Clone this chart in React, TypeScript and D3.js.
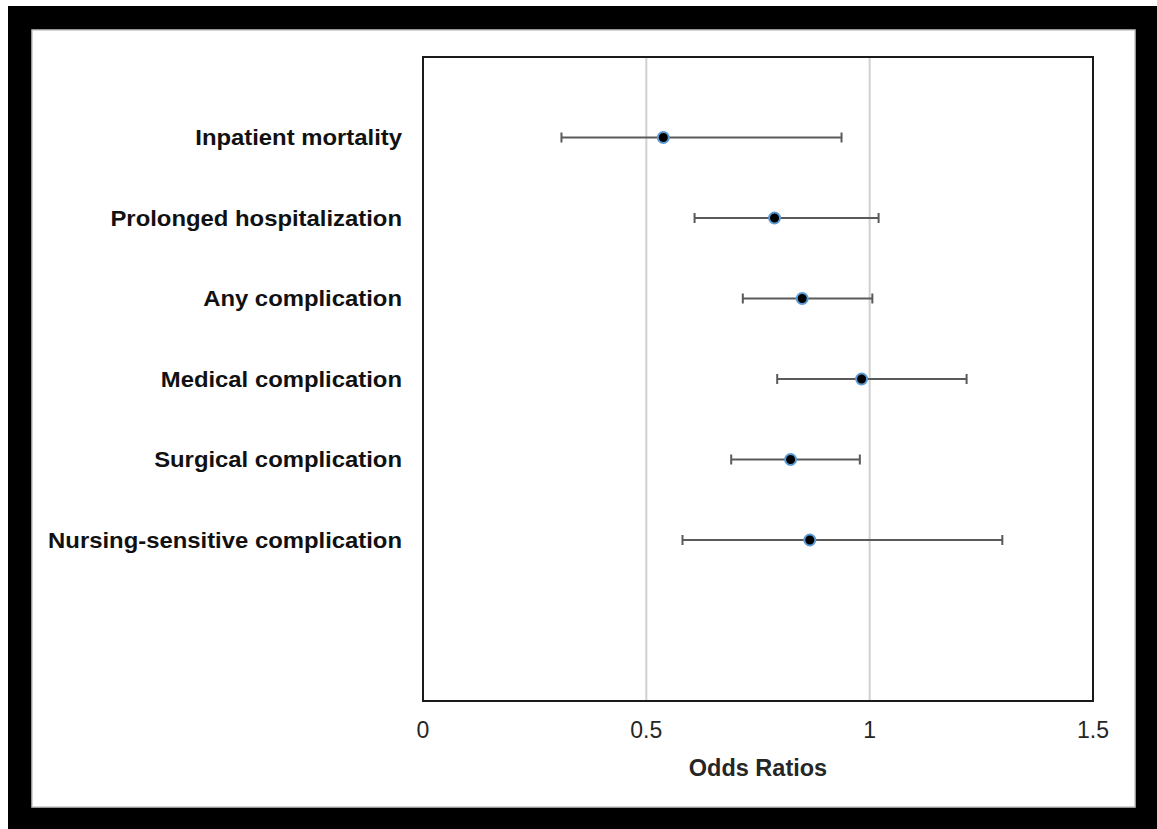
import React from "react";
import * as d3 from "d3";

const categories = [
  "Inpatient mortality",
  "Prolonged hospitalization",
  "Any complication",
  "Medical complication",
  "Surgical complication",
  "Nursing-sensitive complication",
];
const oddsRatios = [0.538, 0.787, 0.849, 0.982, 0.823, 0.866];
const lowerCI = [0.31, 0.608, 0.716, 0.793, 0.69, 0.581];
const upperCI = [0.937, 1.02, 1.006, 1.217, 0.978, 1.297];
const xTicks = [0, 0.5, 1, 1.5];
const gridValues = [0.5, 1];
const xTitle = "Odds Ratios";

export default function App() {
  const W = 1157, H = 829;
  const plot = { left: 423, right: 1093, top: 57, bottom: 701 };
  const x = d3.scaleLinear().domain([0, 1.5]).range([plot.left, plot.right]);
  const y = d3.scaleLinear().domain([8, 0]).range([plot.top, plot.bottom]);
  const yPos = (i: number) => y(7 - i);
  const font = "'Liberation Sans', Arial, sans-serif";
  const sx = 1.085;
  return (
    <svg width={W} height={H} style={{ position: "absolute", left: 0, top: 0 }}>
      <rect x={0} y={0} width={W} height={H} fill="#fff" />
      <rect x={8} y={6} width={W - 8} height={H - 6} fill="#000" />
      <rect x={32} y={30} width={1103} height={777} fill="#fff" stroke="#c8c8c8" strokeWidth={1.5} />
      {gridValues.map((g) => (
        <line key={g} x1={x(g)} x2={x(g)} y1={plot.top} y2={plot.bottom} stroke="#d0d0d0" strokeWidth={2} />
      ))}
      <rect
        x={plot.left}
        y={plot.top}
        width={plot.right - plot.left}
        height={plot.bottom - plot.top}
        fill="none"
        stroke="#1a1a1a"
        strokeWidth={2}
      />
      {categories.map((c, i) => {
        const cy = yPos(i);
        return (
          <g key={c}>
            <line x1={x(lowerCI[i])} x2={x(upperCI[i])} y1={cy} y2={cy} stroke="#5a5a5a" strokeWidth={2} />
            <line x1={x(lowerCI[i])} x2={x(lowerCI[i])} y1={cy - 5} y2={cy + 5} stroke="#5a5a5a" strokeWidth={2} />
            <line x1={x(upperCI[i])} x2={x(upperCI[i])} y1={cy - 5} y2={cy + 5} stroke="#5a5a5a" strokeWidth={2} />
            <circle cx={x(oddsRatios[i])} cy={cy} r={5.5} fill="#000" stroke="#5b9bd5" strokeWidth={2} />
            <g transform={`translate(402,${cy}) scale(${sx},1)`}>
              <text
                x={0}
                y={0}
                dy="0.35em"
                textAnchor="end"
                fontFamily={font}
                fontWeight="bold"
                fontSize={22}
                fill="#111"
              >
                {c}
              </text>
            </g>
          </g>
        );
      })}
      {xTicks.map((t) => (
        <text
          key={t}
          x={x(t)}
          y={738}
          textAnchor="middle"
          fontFamily={font}
          fontSize={23}
          fill="#262626"
        >
          {String(t)}
        </text>
      ))}
      <text
        x={(plot.left + plot.right) / 2}
        y={776}
        textAnchor="middle"
        fontFamily={font}
        fontWeight="bold"
        fontSize={23.5}
        fill="#262626"
      >
        {xTitle}
      </text>
    </svg>
  );
}
